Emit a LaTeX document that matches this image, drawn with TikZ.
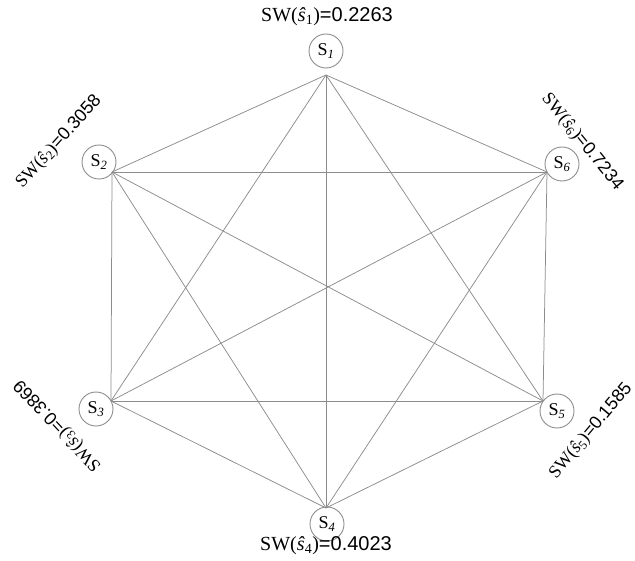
\documentclass[tikz,border=0pt]{standalone}
\usepackage{fontspec}
\setmainfont{Liberation Serif}
\newfontfamily\lsans{Liberation Sans}
\newcommand\swlab[2]{SW(\textit{ŝ}\textsubscript{#1})\lsans=#2}
\begin{document}
\begin{tikzpicture}[x=1pt,y=-1pt,
  edge/.style={draw=gray!90,line width=0.75pt},
  circ/.style={circle,draw=gray!90,line width=0.9pt,minimum size=34pt,inner sep=0pt,font=\fontsize{18}{18}\selectfont},
  swl/.style={inner sep=0pt,font=\fontsize{20}{20}\selectfont},
  swr/.style={inner sep=0pt,font=\fontsize{18}{18}\selectfont}]
\useasboundingbox (0,0) rectangle (635,561);
% hubs (hexagon vertices)
\coordinate (h1) at (326,75);
\coordinate (h2) at (112,172);
\coordinate (h3) at (111,401);
\coordinate (h4) at (326,508);
\coordinate (h5) at (543,401);
\coordinate (h6) at (547,172);
% edges
\foreach \a/\b in {1/2,1/3,1/4,1/5,1/6,2/3,2/4,2/5,2/6,3/4,3/5,3/6,4/5,4/6,5/6}
  \draw[edge] (h\a) -- (h\b);
% nodes
\node[circ] (S1) at (326,51) {S\textsubscript{\textit{1}}};
\node[circ] (S2) at (99,162) {S\textsubscript{\textit{2}}};
\node[circ] (S3) at (96,409) {S\textsubscript{\textit{3}}};
\node[circ] (S4) at (327,524) {S\textsubscript{\textit{4}}};
\node[circ] (S5) at (557,411) {S\textsubscript{\textit{5}}};
\node[circ] (S6) at (562,164) {S\textsubscript{\textit{6}}};
% labels
\node[swl] (L1) at (327,17) {\swlab{1}{0.2263}};
\node[swl] (L4) at (326,546) {\swlab{4}{0.4023}};
\node[swr,rotate=48] (L2) at (59,142) {\swlab{2}{0.3058}};
\node[swr,rotate=-51] (L6) at (582,142) {\swlab{6}{0.7234}};
\node[swr,rotate=133] (L3) at (58,425) {\swlab{3}{0.3869}};
\node[swr,rotate=50] (L5) at (591,431) {\swlab{5}{0.1585}};
\end{tikzpicture}
\end{document}
